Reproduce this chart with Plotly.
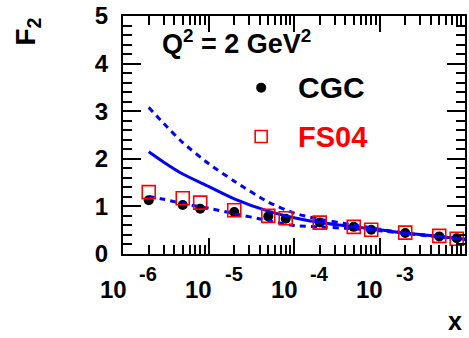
import plotly.graph_objects as go
import numpy as np

# ---- data ----
x_pts = [2e-6, 5e-6, 8e-6, 2e-5, 5e-5, 8e-5, 2e-4, 5e-4, 8e-4, 2e-3, 5e-3, 8e-3]
cgc = [1.13, 1.03, 0.95, 0.88, 0.79, 0.74, 0.66, 0.57, 0.51, 0.44, 0.37, 0.33]
fs04 = [1.30, 1.17, 1.08, 0.92, 0.80, 0.75, 0.66, 0.57, 0.51, 0.45, 0.38, 0.32]

curve_x = [2e-6, 3e-6, 5e-6, 1e-5, 2e-5, 5e-5, 1e-4, 2e-4, 5e-4, 1e-3, 2e-3, 5e-3, 1e-2]
upper_dash = [3.08, 2.74, 2.34, 1.90, 1.53, 1.09, 0.86, 0.73, 0.61, 0.52, 0.44, 0.37, 0.31]
solid = [2.15, 1.93, 1.68, 1.42, 1.16, 0.90, 0.76, 0.66, 0.57, 0.51, 0.44, 0.37, 0.31]
lower_dash = [1.21, 1.15, 1.06, 0.96, 0.85, 0.70, 0.60, 0.57, 0.53, 0.49, 0.43, 0.36, 0.31]

x_tick_exponents = [-6, -5, -4, -3]
y_ticks = [0, 1, 2, 3, 4, 5]

FONT = "Liberation Sans, Arial, sans-serif"
BLUE = "#0000ff"

fig = go.Figure()

# CGC points (underneath)
fig.add_trace(go.Scatter(x=x_pts, y=cgc, mode="markers",
                         marker=dict(symbol="circle", size=10, color="black"),
                         showlegend=False))
# curves
fig.add_trace(go.Scatter(x=curve_x, y=upper_dash, mode="lines",
                         line=dict(color=BLUE, width=3, dash="6px,5px", shape="spline", smoothing=0.6),
                         showlegend=False))
fig.add_trace(go.Scatter(x=curve_x, y=solid, mode="lines",
                         line=dict(color=BLUE, width=3, shape="spline", smoothing=0.6),
                         showlegend=False))
fig.add_trace(go.Scatter(x=curve_x, y=lower_dash, mode="lines",
                         line=dict(color=BLUE, width=3, dash="6px,5px", shape="spline", smoothing=0.6),
                         showlegend=False))
# FS04 points
fig.add_trace(go.Scatter(x=x_pts, y=fs04, mode="markers",
                         marker=dict(symbol="square-open", size=13, color="#ff0000",
                                     line=dict(width=1.6, color="#ff0000")),
                         showlegend=False))

# legend markers on overlay axes
fig.add_trace(go.Scatter(x=[0.404], y=[0.699], xaxis="x2", yaxis="y2", mode="markers",
                         marker=dict(symbol="circle", size=10, color="black"), showlegend=False))
fig.add_trace(go.Scatter(x=[0.404], y=[0.494], xaxis="x2", yaxis="y2", mode="markers",
                         marker=dict(symbol="square-open", size=12, color="#ff0000",
                                     line=dict(width=1.6, color="#ff0000")), showlegend=False))

minor_x = [m * 10.0 ** e for e in range(-6, -2) for m in range(2, 10)]

fig.update_layout(
    width=469, height=338,
    margin=dict(l=123, r=2, t=15, b=84),
    paper_bgcolor="white", plot_bgcolor="white",
    font=dict(family=FONT, color="black", size=24, weight="bold"),
    xaxis=dict(type="log", range=[-6, -2], showline=True, linecolor="black", linewidth=2,
               mirror="allticks", ticks="inside", ticklen=16, tickwidth=2, tickcolor="black",
               tickvals=[10.0 ** e for e in range(-6, -1)], showticklabels=False,
               showgrid=False, zeroline=False,
               minor=dict(ticks="inside", ticklen=9, tickwidth=2, tickcolor="black",
                          tickvals=minor_x, showgrid=False)),
    yaxis=dict(range=[0, 5], showline=True, linecolor="black", linewidth=2,
               mirror="allticks", ticks="inside", ticklen=18, tickwidth=2, tickcolor="black",
               tickvals=y_ticks, ticktext=[str(v) for v in y_ticks],
               tickfont=dict(size=24, family=FONT, weight="bold"),
               ticklabelstandoff=8,
               showgrid=False, zeroline=False,
               minor=dict(ticks="inside", ticklen=9, tickwidth=2, tickcolor="black",
                          dtick=0.2, showgrid=False)),
    xaxis2=dict(overlaying="x", range=[0, 1], visible=False),
    yaxis2=dict(overlaying="y", range=[0, 1], visible=False),
)

ann = []
for e in x_tick_exponents:
    ann.append(dict(x=e, xref="x", y=-0.1506, yref="paper", text="10", showarrow=False,
                    xshift=-10, xanchor="center", yanchor="middle",
                    font=dict(size=24, family=FONT, weight="bold")))
    ann.append(dict(x=e, xref="x", y=-0.0837, yref="paper", text=str(e), showarrow=False,
                    xshift=25, xanchor="center", yanchor="middle",
                    font=dict(size=20, family=FONT, weight="bold")))

ann.append(dict(x=0.972, y=-0.345, xref="paper", yref="paper", text="x", showarrow=False,
                xanchor="center", yanchor="bottom", borderpad=0,
                font=dict(size=25, family=FONT, weight="bold")))
ann.append(dict(x=-0.279, y=0.933, xref="paper", yref="paper", text="F<sub>2</sub>", showarrow=False,
                textangle=-90, xanchor="center", yanchor="middle",
                font=dict(size=28, family=FONT, weight="bold")))
ann.append(dict(x=0.1076, y=0.891, xref="paper", yref="paper",
                text="Q<sup>2</sup> = 2 GeV<sup>2</sup>", showarrow=False,
                xanchor="left", yanchor="middle", font=dict(size=27, family=FONT, weight="bold")))
ann.append(dict(x=0.506, y=0.699, xref="paper", yref="paper", text="CGC", showarrow=False,
                xanchor="left", yanchor="middle", font=dict(size=30, family=FONT, weight="bold", color="black")))
ann.append(dict(x=0.506, y=0.49, xref="paper", yref="paper", text="FS04", showarrow=False,
                xanchor="left", yanchor="middle", font=dict(size=29, family=FONT, weight="bold", color="#ff0000")))

fig.update_layout(annotations=ann)
fig.write_html("out.html")
